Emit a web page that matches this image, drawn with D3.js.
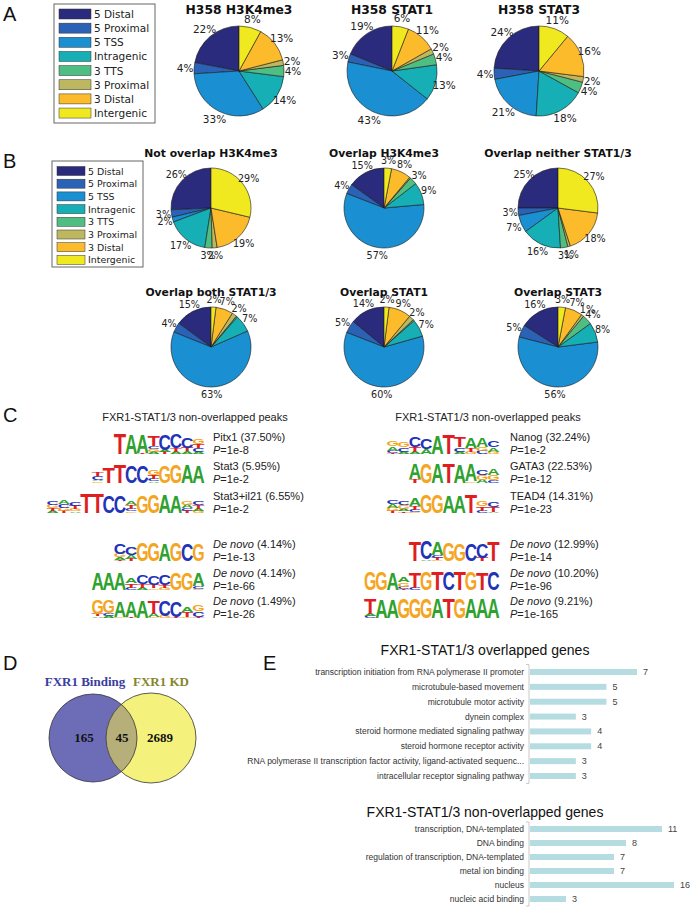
<!DOCTYPE html>
<html>
<head>
<meta charset="utf-8">
<script src="https://cdn.jsdelivr.net/npm/d3@7"></script>
<style>
  body { margin: 0; background: #fff; }
  svg { display: block; }
</style>
</head>
<body>
<svg id="fig" width="700" height="908"></svg>
<script>
// ---- data ----
const regions = ['5 Distal', '5 Proximal', '5 TSS', 'Intragenic', '3 TTS', '3 Proximal', '3 Distal', 'Intergenic'];
const regionColors = ['#2b2b7e', '#2c62b6', '#1a8fd2', '#15afb5', '#4fbe82', '#bdb75f', '#fbbb2b', '#f1e91f'];

const titlesA = ['H358 H3K4me3', 'H358 STAT1', 'H358 STAT3'];
const valuesA = [
  [22, 4, 33, 14, 4, 2, 13, 8],
  [19, 3, 43, 13, 4, 2, 11, 6],
  [24, 4, 21, 18, 4, 2, 16, 11],
];

const titlesB = ['Not overlap H3K4me3', 'Overlap H3K4me3', 'Overlap neither STAT1/3',
  'Overlap both STAT1/3', 'Overlap STAT1', 'Overlap STAT3'];
const valuesB = [
  [26, 3, 2, 17, 3, 2, 19, 29],
  [15, 4, 57, 9, 3, 0.5, 8, 3],
  [25, 3, 7, 16, 3, 1, 18, 27],
  [15, 4, 63, 7, 0.5, 2, 7, 2],
  [14, 5, 60, 7, 0.5, 2, 9, 2],
  [16, 5, 56, 8, 4, 1, 7, 3],
];

// motif logos: one object per column, letter -> bits
const logosLeft = [
  [{T: 1.9}, {A: 1.8}, {A: 1.7, T: 0.05}, {T: 0.9, G: 0.25, C: 0.25, A: 0.2}, {C: 1.5, T: 0.2, A: 0.2},
   {C: 1.3, T: 0.35, A: 0.2}, {C: 1.0, T: 0.3, A: 0.25}, {G: 0.45, T: 0.4, C: 0.35, A: 0.2}],
  [{C: 0.35, T: 0.35, G: 0.15, A: 0.15}, {T: 1.5}, {T: 1.7}, {C: 1.6}, {C: 1.6},
   {G: 0.45, T: 0.3, C: 0.25, A: 0.15}, {G: 1.6}, {G: 1.7}, {A: 1.7}, {A: 1.6}],
  [{C: 0.35, G: 0.3, T: 0.25, A: 0.2}, {A: 0.4, G: 0.3, C: 0.3, T: 0.2}, {C: 0.4, T: 0.3, G: 0.2, A: 0.15},
   {T: 1.8}, {T: 1.8}, {C: 1.6}, {C: 1.6}, {A: 0.4, T: 0.35, C: 0.25, G: 0.15}, {G: 1.6}, {G: 1.7},
   {A: 1.7}, {A: 1.6}, {G: 0.35, A: 0.3, C: 0.25, T: 0.2}, {C: 0.4, T: 0.35, G: 0.2, A: 0.2}],
  [{C: 0.9, G: 0.3, A: 0.25, T: 0.1}, {C: 0.75, A: 0.35, T: 0.2}, {G: 1.7}, {G: 1.7}, {A: 1.6},
   {G: 1.7}, {C: 1.6}, {G: 1.6}],
  [{A: 1.6}, {A: 1.6}, {A: 1.6}, {A: 0.45, T: 0.4, C: 0.2}, {C: 0.8, T: 0.35, A: 0.2},
   {C: 0.8, T: 0.35, G: 0.15}, {C: 0.9, T: 0.25, G: 0.2}, {G: 1.6}, {G: 1.6}, {A: 1.2, C: 0.25, G: 0.1}],
  [{G: 1.3, T: 0.2, A: 0.15}, {G: 1.2, C: 0.25, A: 0.2}, {A: 1.5, G: 0.1}, {A: 1.5, T: 0.1}, {A: 1.6},
   {T: 1.2, A: 0.3, G: 0.1}, {C: 1.5, G: 0.2}, {C: 1.5, T: 0.1}, {A: 0.5, T: 0.45, G: 0.1},
   {G: 0.55, C: 0.5, T: 0.1}],
];
const logosRight = [
  [{G: 0.5, A: 0.4, C: 0.2, T: 0.1}, {G: 0.5, C: 0.4, A: 0.2}, {C: 0.9, T: 0.45, A: 0.2}, {C: 1.0, A: 0.45},
   {A: 1.7}, {T: 1.8}, {T: 1.0, C: 0.4, A: 0.2}, {A: 0.9, T: 0.35, G: 0.2}, {A: 0.8, G: 0.35, C: 0.3},
   {C: 0.55, A: 0.4, G: 0.2}],
  [{A: 1.4, T: 0.35}, {G: 1.8}, {A: 1.8}, {T: 1.8}, {A: 1.7}, {A: 1.6, G: 0.15},
   {C: 0.5, G: 0.45, A: 0.3}, {A: 0.6, G: 0.5, C: 0.25}],
  [{C: 0.4, G: 0.3, A: 0.3, T: 0.2}, {C: 0.4, G: 0.3, A: 0.25, T: 0.15}, {A: 0.7, T: 0.35, C: 0.2, G: 0.1},
   {G: 1.7}, {G: 1.7}, {A: 1.6}, {A: 1.6}, {T: 1.7}, {G: 0.5, T: 0.4, C: 0.2}, {C: 0.5, T: 0.45, A: 0.1}],
  [{T: 1.8}, {C: 1.7, A: 0.15}, {A: 1.2, C: 0.25, T: 0.2, G: 0.1}, {G: 1.7}, {G: 1.6}, {C: 1.6},
   {C: 1.3, T: 0.3}, {T: 1.8}],
  [{G: 1.7}, {G: 1.7}, {A: 1.6}, {A: 0.5, G: 0.4, C: 0.2, T: 0.1}, {T: 1.5, C: 0.2}, {G: 1.7}, {T: 1.7},
   {C: 1.7}, {T: 1.7}, {G: 1.7}, {T: 1.6}, {C: 1.7}],
  [{T: 1.4, C: 0.2, A: 0.2}, {A: 1.7}, {A: 1.7}, {G: 1.8}, {G: 1.8}, {G: 1.8}, {A: 1.8}, {T: 1.8},
   {G: 1.8}, {A: 1.8}, {A: 1.8}, {A: 1.8}],
];
const motifNamesLeft = ['Pitx1', 'Stat3', 'Stat3+il21', 'De novo', 'De novo', 'De novo'];
const motifPctLeft = ['37.50%', '5.95%', '6.55%', '4.14%', '4.14%', '1.49%'];
const motifPLeft = ['1e-8', '1e-2', '1e-2', '1e-13', '1e-66', '1e-26'];
const motifNamesRight = ['Nanog', 'GATA3', 'TEAD4', 'De novo', 'De novo', 'De novo'];
const motifPctRight = ['32.24%', '22.53%', '14.31%', '12.99%', '10.20%', '9.21%'];
const motifPRight = ['1e-2', '1e-12', '1e-23', '1e-14', '1e-96', '1e-165'];
const letterColors = {A: '#2ea12e', C: '#2233b8', G: '#f4a522', T: '#df1f1f'};

const vennSets = ['FXR1 Binding', 'FXR1 KD'];
const vennCounts = [165, 45, 2689];

const goOverlap = ['transcription initiation from RNA polymerase II promoter', 'microtubule-based movement',
  'microtubule motor activity', 'dynein complex', 'steroid hormone mediated signaling pathway',
  'steroid hormone receptor activity',
  'RNA polymerase II transcription factor activity, ligand-activated sequenc...',
  'intracellular receptor signaling pathway'];
const goOverlapCounts = [7, 5, 5, 3, 4, 4, 3, 3];
const goNonOverlap = ['transcription, DNA-templated', 'DNA binding', 'regulation of transcription, DNA-templated',
  'metal ion binding', 'nucleus', 'nucleic acid binding'];
const goNonOverlapCounts = [11, 8, 7, 7, 16, 3];

// ---- drawing ----
const svg = d3.select('#fig');
const sans = 'DejaVu Sans, sans-serif';
const arial = 'Liberation Sans, Arial, sans-serif';

// panel letters
[['A', 3, 21], ['B', 3, 168], ['C', 3, 422], ['D', 3, 670], ['E', 263, 670]].forEach(([t, x, y]) => {
  svg.append('text').attr('x', x).attr('y', y).text(t)
    .style('font', `20px ${arial}`).style('fill', '#111');
});

function drawLegend(x, y, w, h, sw, swH, step, fontSize) {
  const g = svg.append('g');
  g.append('rect').attr('x', x).attr('y', y).attr('width', w).attr('height', h)
    .attr('fill', '#fff').attr('stroke', '#666').attr('stroke-width', 1);
  regions.forEach((r, i) => {
    const cy = y + 10 + i * step;
    g.append('rect').attr('x', x + 5).attr('y', cy - swH / 2).attr('width', sw).attr('height', swH)
      .attr('fill', regionColors[i]).attr('stroke', '#333').attr('stroke-width', 0.5);
    g.append('text').attr('x', x + sw + 8).attr('y', cy).attr('dominant-baseline', 'central')
      .text(r).style('font', `${fontSize}px ${sans}`).style('fill', '#222');
  });
}

const pie = d3.pie().sort(null).startAngle(0).endAngle(-2 * Math.PI);

function drawPie(values, title, cx, cy, r, titleY, titleSize, labelSize) {
  const g = svg.append('g').attr('transform', `translate(${cx},${cy})`);
  const arc = d3.arc().innerRadius(0).outerRadius(r);
  const arcs = pie(values);
  g.selectAll('path').data(arcs).join('path')
    .attr('d', arc)
    .attr('fill', (d, i) => regionColors[i])
    .attr('stroke', '#1a1a1a').attr('stroke-width', 0.6);
  g.selectAll('text.pct').data(arcs.filter((d) => d.data >= 1)).join('text')
    .attr('class', 'pct')
    .attr('x', (d) => 1.2 * r * Math.sin((d.startAngle + d.endAngle) / 2))
    .attr('y', (d) => -1.2 * r * Math.cos((d.startAngle + d.endAngle) / 2))
    .attr('text-anchor', 'middle').attr('dominant-baseline', 'central')
    .text((d) => `${d.data}%`)
    .style('font', `${labelSize}px ${sans}`).style('fill', '#222');
  svg.append('text').attr('x', cx).attr('y', titleY).attr('text-anchor', 'middle')
    .text(title).style('font', `bold ${titleSize}px ${sans}`).style('fill', '#111');
}

// panel A
drawLegend(54, 4, 101, 119, 32, 10, 14.15, 10.5);
const centersA = [239, 392, 539];
valuesA.forEach((v, i) => drawPie(v, titlesA[i], centersA[i], 71, 45, 14, 12.3, 10.5));

// panel B
drawLegend(52, 161, 91, 106, 28, 9, 12.7, 9.4);
const centersBx = [211, 384, 558];
valuesB.forEach((v, i) => {
  const row = Math.floor(i / 3);
  drawPie(v, titlesB[i], centersBx[i % 3], row ? 347 : 208, 40, row ? 296 : 157, 10.8, 9.6);
});

// panel C: sequence logos
const bits = d3.scaleLinear().domain([0, 2]).range([0, 22]);
const colW = 11.2;

function drawLogo(cols, right, bottom) {
  const g = svg.append('g');
  const left = right - cols.length * colW;
  cols.forEach((col, i) => {
    const stack = Object.entries(col).sort((a, b) => a[1] - b[1]);
    let y = bottom;
    stack.forEach(([letter, b]) => {
      const h = bits(b);
      // stretch the glyph a little past the column so side bearings don't leave gaps
      g.append('text')
        .attr('transform', `translate(${left + i * colW - 0.6},${y}) scale(1,${h / 72})`)
        .attr('textLength', colW + 1.2).attr('lengthAdjust', 'spacingAndGlyphs')
        .text(letter)
        .style('font', `bold 100px ${arial}`)
        .style('fill', letterColors[letter]);
      y -= h;
    });
  });
}

function drawMotifLabel(x, y, name, pct, p) {
  const t1 = svg.append('text').attr('x', x).attr('y', y).style('font', `11px ${arial}`).style('fill', '#222');
  t1.append('tspan').text(name).style('font-style', name === 'De novo' ? 'italic' : 'normal');
  t1.append('tspan').text(` (${pct})`);
  const t2 = svg.append('text').attr('x', x).attr('y', y + 13).style('font', `11px ${arial}`).style('fill', '#222');
  t2.append('tspan').text('P').style('font-style', 'italic');
  t2.append('tspan').text(`=${p}`);
}

svg.append('text').attr('x', 195).attr('y', 421).attr('text-anchor', 'middle')
  .text('FXR1-STAT1/3 non-overlapped peaks').style('font', `11px ${arial}`).style('fill', '#222');
svg.append('text').attr('x', 488).attr('y', 421).attr('text-anchor', 'middle')
  .text('FXR1-STAT1/3 non-overlapped peaks').style('font', `11px ${arial}`).style('fill', '#222');

const rowY = [441, 470, 500, 548, 577, 605];
logosLeft.forEach((cols, i) => {
  drawLogo(cols, 204, rowY[i] + 13);
  drawMotifLabel(213, rowY[i], motifNamesLeft[i], motifPctLeft[i], motifPLeft[i]);
});
logosRight.forEach((cols, i) => {
  drawLogo(cols, 499, rowY[i] + 13);
  drawMotifLabel(510, rowY[i], motifNamesRight[i], motifPctRight[i], motifPRight[i]);
});

// panel D: venn
const venn = svg.append('g');
const vc = [[93, 738, 44], [151, 738, 45]];
venn.append('defs').append('clipPath').attr('id', 'clipL')
  .append('circle').attr('cx', vc[0][0]).attr('cy', vc[0][1]).attr('r', vc[0][2]);
venn.append('circle').attr('cx', vc[0][0]).attr('cy', vc[0][1]).attr('r', vc[0][2]).attr('fill', '#6d6db7');
venn.append('circle').attr('cx', vc[1][0]).attr('cy', vc[1][1]).attr('r', vc[1][2]).attr('fill', '#f5f17d');
venn.append('circle').attr('cx', vc[1][0]).attr('cy', vc[1][1]).attr('r', vc[1][2])
  .attr('fill', '#b6af7a').attr('clip-path', 'url(#clipL)');
vc.forEach(([x, y, r]) => venn.append('circle').attr('cx', x).attr('cy', y).attr('r', r)
  .attr('fill', 'none').attr('stroke', '#333').attr('stroke-width', 0.8));
const serif = 'Liberation Serif, Times New Roman, serif';
venn.append('text').attr('x', 85).attr('y', 686).attr('text-anchor', 'middle').text(vennSets[0])
  .style('font', `bold 13px ${serif}`).style('fill', '#3b3c9e');
venn.append('text').attr('x', 161).attr('y', 686).attr('text-anchor', 'middle').text(vennSets[1])
  .style('font', `bold 13px ${serif}`).style('fill', '#878530');
[84, 122, 160].forEach((x, i) => {
  venn.append('text').attr('x', x).attr('y', 742).attr('text-anchor', 'middle').text(vennCounts[i])
    .style('font', `bold 13px ${serif}`).style('fill', '#111');
});

// panel E: bar charts
function drawBars(cats, counts, title, titleY, yTop, yBottom, x) {
  const g = svg.append('g');
  const axisX = 529;
  const y = d3.scalePoint().domain(cats).range([yTop, yBottom]);
  g.append('text').attr('x', 485).attr('y', titleY).attr('text-anchor', 'middle').text(title)
    .style('font', `14px ${arial}`).style('fill', '#111');
  const step = y.step();
  g.append('line').attr('x1', axisX).attr('x2', axisX)
    .attr('y1', yTop - step / 2).attr('y2', yBottom + step / 2)
    .attr('stroke', '#c8c8c8').attr('stroke-width', 1);
  [yTop - step / 2, yBottom + step / 2].forEach((ty) => {
    g.append('line').attr('x1', axisX - 3).attr('x2', axisX).attr('y1', ty).attr('y2', ty)
      .attr('stroke', '#c8c8c8').attr('stroke-width', 1);
  });
  cats.forEach((c, i) => {
    g.append('rect').attr('x', axisX + 1).attr('y', y(c) - 3).attr('width', x(counts[i])).attr('height', 6)
      .attr('fill', '#b5dde1');
    g.append('text').attr('x', axisX - 5).attr('y', y(c)).attr('text-anchor', 'end')
      .attr('dominant-baseline', 'central').text(c)
      .style('font', `8.5px ${arial}`).style('fill', '#333');
    g.append('text').attr('x', axisX + 1 + x(counts[i]) + 6).attr('y', y(c))
      .attr('dominant-baseline', 'central').text(counts[i])
      .style('font', `9px ${arial}`).style('fill', '#444');
  });
}

const xOverlap = d3.scaleLinear().domain([0, 7]).range([0, 107]);
const xNonOverlap = d3.scaleLinear().domain([0, 12]).range([0, 144]).clamp(true);
drawBars(goOverlap, goOverlapCounts, 'FXR1-STAT1/3 overlapped genes', 655, 672, 776, xOverlap);
drawBars(goNonOverlap, goNonOverlapCounts, 'FXR1-STAT1/3 non-overlapped genes', 817, 829, 899, xNonOverlap);
</script>
</body>
</html>
